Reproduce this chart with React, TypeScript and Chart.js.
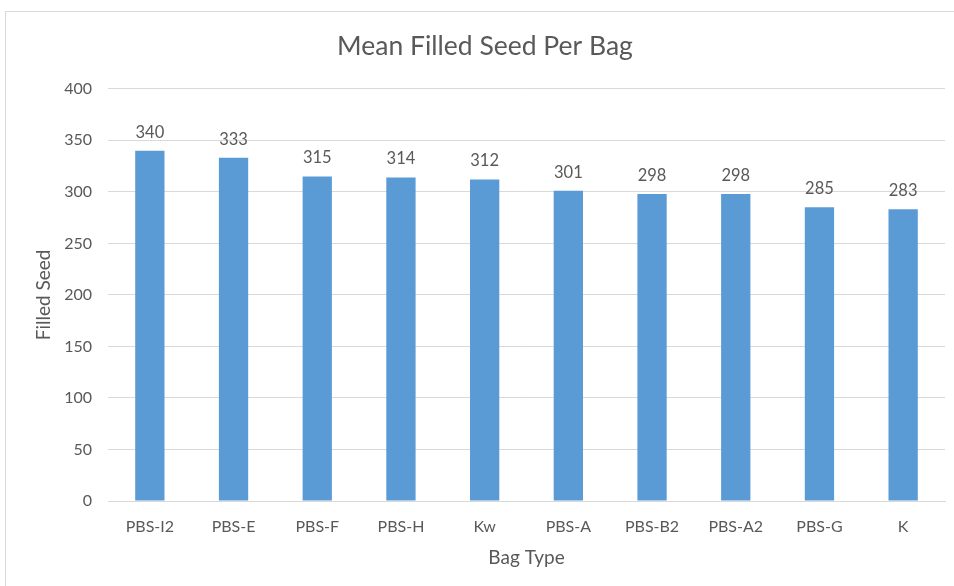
import React, { useEffect, useRef } from "react";
import { Chart, registerables } from "chart.js";

Chart.register(...registerables);

const bagTypes = ["PBS-I2", "PBS-E", "PBS-F", "PBS-H", "Kw", "PBS-A", "PBS-B2", "PBS-A2", "PBS-G", "K"];
const filledSeed = [340, 333, 315, 314, 312, 301, 298, 298, 285, 283];
const yTicks = [0, 50, 100, 150, 200, 250, 300, 350, 400];

const FONT = "Lato, 'Open Sans', sans-serif";
const TEXT = "#595959";
const BAR = "#5B9BD5";

// Writes each bar's value just above it
const valueLabels = {
  id: "valueLabels",
  afterDatasetsDraw(chart: any) {
    const { ctx } = chart;
    const meta = chart.getDatasetMeta(0);
    const values = chart.data.datasets[0].data as number[];
    ctx.save();
    ctx.font = `16.5px ${FONT}`;
    ctx.fillStyle = TEXT;
    ctx.textAlign = "center";
    ctx.textBaseline = "alphabetic";
    meta.data.forEach((bar: any, i: number) => {
      ctx.fillText(String(values[i]), bar.x, bar.y - 13);
    });
    ctx.restore();
  },
};

export default function App() {
  const canvasRef = useRef<HTMLCanvasElement | null>(null);

  useEffect(() => {
    const canvas = canvasRef.current;
    if (!canvas) return;
    const chart = new Chart(canvas, {
      type: "bar",
      data: {
        labels: bagTypes,
        datasets: [
          {
            data: filledSeed,
            backgroundColor: BAR,
            borderWidth: 0,
            categoryPercentage: 0.35,
            barPercentage: 1,
          },
        ],
      },
      options: {
        animation: false,
        responsive: false,
        layout: { padding: { top: 0, right: 9, bottom: 0, left: 25 } },
        plugins: {
          legend: { display: false },
          tooltip: { enabled: false },
          title: {
            display: true,
            text: "Mean Filled Seed Per Bag",
            color: TEXT,
            font: { family: FONT, size: 26.5, weight: "normal" },
            padding: { top: 31, bottom: 26 },
          },
        },
        scales: {
          x: {
            grid: { display: false, drawTicks: false },
            border: { display: true, color: "#d9d9d9" },
            ticks: { color: TEXT, font: { family: FONT, size: 16 }, padding: 16 },
            title: {
              display: true,
              text: "Bag Type",
              color: TEXT,
              font: { family: FONT, size: 19 },
              padding: { top: 0, bottom: 16.6 },
            },
            afterFit(scale: any) {
              scale.height = 85;
            },
          },
          y: {
            min: 0,
            max: 400,
            afterBuildTicks(scale: any) {
              scale.ticks = yTicks.map((v) => ({ value: v }));
            },
            grid: { color: "#d9d9d9", drawTicks: false },
            border: { display: false },
            ticks: { color: TEXT, font: { family: FONT, size: 16 }, padding: 16 },
            title: {
              display: true,
              text: "Filled Seed",
              color: TEXT,
              font: { family: FONT, size: 19 },
              padding: { top: 7.6, bottom: 0 },
            },
            afterFit(scale: any) {
              scale.width = 83;
            },
          },
        },
      },
      plugins: [valueLabels],
    });
    return () => chart.destroy();
  }, []);

  return (
    <div style={{ position: "fixed", left: 0, top: 0, width: 954, height: 586, background: "#fff" }}>
      <div
        style={{
          position: "absolute",
          left: 5,
          top: 11,
          right: -2,
          bottom: -2,
          borderLeft: "1px solid #d9d9d9",
          borderTop: "1px solid #d9d9d9",
        }}
      />
      <canvas
        ref={canvasRef}
        width={954}
        height={586}
        style={{ position: "absolute", left: 0, top: 0, width: 954, height: 586 }}
      />
    </div>
  );
}
